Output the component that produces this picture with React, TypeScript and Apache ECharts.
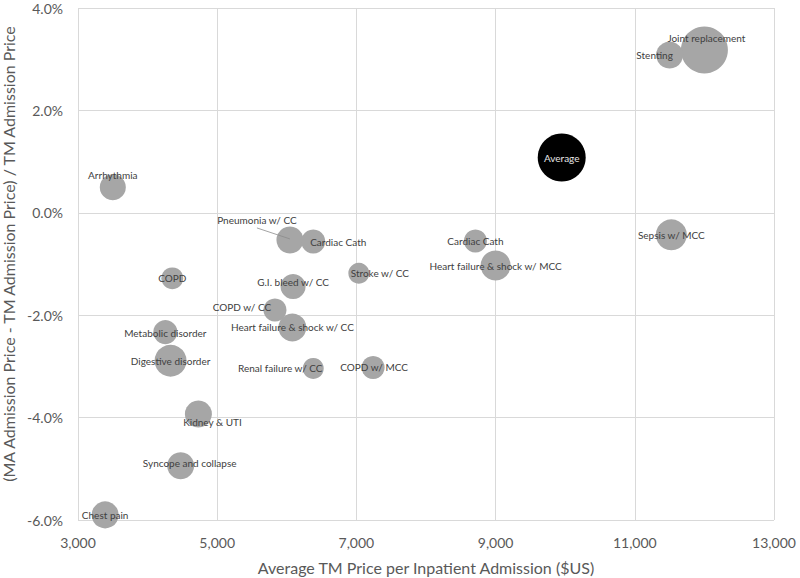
import React, { useEffect, useRef } from "react";
import * as echarts from "echarts";

const names = [
  "Joint replacement", "Stenting", "Average", "Arrhythmia", "Pneumonia w/ CC",
  "Cardiac Cath", "COPD", "G.I. bleed w/ CC", "Stroke w/ CC", "COPD w/ CC",
  "Heart failure & shock w/ CC", "Metabolic disorder", "Digestive disorder",
  "Renal failure w/ CC", "COPD w/ MCC", "Cardiac Cath", "Heart failure & shock w/ MCC",
  "Sepsis w/ MCC", "Kidney & UTI", "Syncope and collapse", "Chest pain",
];
const tmPrice = [
  12000, 11500, 9950, 3500, 6045, 6380, 4355, 6090, 7035, 5830,
  6080, 4255, 4330, 6380, 7240, 8710, 9000, 11525, 4730, 4475, 3390,
];
const priceDiff = [
  3.18, 3.08, 1.08, 0.5, -0.53, -0.56, -1.28, -1.44, -1.18, -1.9,
  -2.24, -2.33, -2.89, -3.04, -3.02, -0.55, -1.03, -0.43, -3.93, -4.94, -5.9,
];
const volume = [
  22.1, 7.3, 23, 6.8, 7.3, 5.8, 4.8, 6.3, 4.4, 5.3,
  7.8, 5.8, 10.2, 4.4, 5.3, 5.3, 9, 9.6, 7.3, 7.3, 7.3,
];
const xTicks = [3000, 5000, 7000, 9000, 11000, 13000];
const yTicks = [-6, -4, -2, 0, 2, 4];

// label offsets (dx, dy) in pixels, matching manual label placement
const labelShift: Record<number, [number, number]> = {
  0: [2, -12], 1: [-15, 0], 3: [0, -12], 4: [-33, -20], 5: [25, 1],
  7: [0, -5], 8: [21, 0], 9: [-33, -3], 11: [0, 1], 13: [-33, 0],
  14: [1, 0], 18: [14, 8], 19: [9, -3],
};
const leaderIndex = 4;

export default function App() {
  const ref = useRef<HTMLDivElement>(null);
  useEffect(() => {
    if (!ref.current) return;
    const chart = echarts.init(ref.current, undefined, { renderer: "svg" });
    const data = names.map((n, i) => {
      const item: any = {
        name: n,
        value: [tmPrice[i], priceDiff[i], volume[i]],
      };
      if (n === "Average") {
        item.itemStyle = { color: "#000000" };
        item.label = { color: "#e6e6e6" };
      }
      return item;
    });
    chart.setOption({
      animation: false,
      textStyle: { fontFamily: "Lato" },
      grid: {
        left: 78,
        right: 26,
        top: 8,
        bottom: 58,
        containLabel: false,
        outerBoundsMode: "none",
      },
      xAxis: {
        type: "value",
        min: xTicks[0],
        max: xTicks[xTicks.length - 1],
        interval: 2000,
        name: "Average TM Price per Inpatient Admission ($US)",
        nameLocation: "middle",
        nameGap: 39,
        nameTextStyle: { fontSize: 16, color: "#595959", fontFamily: "Lato" },
        axisLine: { show: false },
        axisTick: { show: false },
        axisLabel: {
          fontSize: 14,
          color: "#595959",
          margin: 15,
          formatter: (v: number) => v.toLocaleString("en-US"),
        },
        splitLine: { show: true, lineStyle: { color: "#d9d9d9", width: 1 } },
      },
      yAxis: {
        type: "value",
        min: yTicks[0],
        max: yTicks[yTicks.length - 1],
        interval: 2,
        name: "(MA Admission Price - TM Admission Price) / TM Admission Price",
        nameLocation: "middle",
        nameGap: 50,
        nameTextStyle: {
          fontSize: 16,
          color: "#595959",
          fontFamily: "Lato",
          padding: [0, 0, 0, 20],
        },
        axisLine: { show: false },
        axisTick: { show: false },
        axisLabel: {
          fontSize: 14,
          color: "#595959",
          margin: 15,
          formatter: (v: number) => v.toFixed(1) + "%",
        },
        splitLine: { show: true, lineStyle: { color: "#d9d9d9", width: 1 } },
      },
      series: [
        {
          type: "scatter",
          data,
          symbolSize: (val: number[]) => 10 * Math.sqrt(val[2]),
          itemStyle: { color: "#a6a6a6", opacity: 1 },
          label: {
            show: true,
            position: "inside",
            formatter: (p: any) => p.name,
            fontSize: 10,
            fontFamily: "Lato",
            color: "#404040",
          },
          labelLayout: (p: any) => {
            const s = labelShift[p.dataIndex];
            return s ? { dx: s[0], dy: s[1] } : {};
          },
          emphasis: { disabled: true },
        },
      ],
    });
    const c = chart.convertToPixel({ seriesIndex: 0 }, [
      tmPrice[leaderIndex],
      priceDiff[leaderIndex],
    ]) as number[];
    chart.setOption({
      graphic: [
        {
          type: "line",
          z: 100,
          shape: { x1: c[0] - 33, y1: c[1] - 12, x2: c[0], y2: c[1] - 1 },
          style: { stroke: "#8c8c8c", lineWidth: 0.8 },
          silent: true,
        },
      ],
    });
    return () => chart.dispose();
  }, []);
  return (
    <div
      ref={ref}
      style={{ position: "absolute", left: 0, top: 0, width: 800, height: 578 }}
    />
  );
}
